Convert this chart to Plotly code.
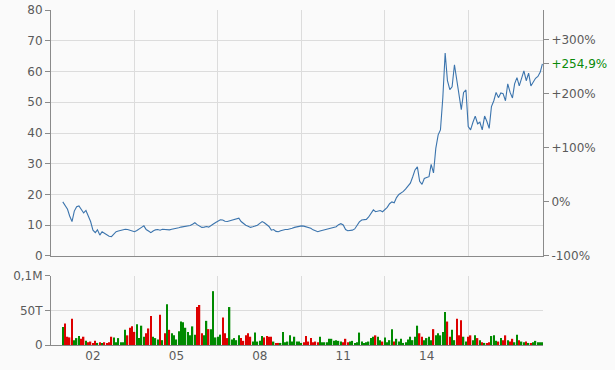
import pandas as pd
import plotly.graph_objects as go

# ---- data (monthly) ----
months = pd.date_range("2000-12-01", "2018-03-01", freq="MS")

close = [
    17.6, 16.4, 15.2, 13.0, 11.2, 14.6, 16.0, 16.3, 15.1, 14.0,
    14.8, 12.8, 11.2, 8.4, 7.6, 8.5, 6.8, 7.9, 7.4, 7.1,
    6.4, 6.3, 7.2, 7.9, 8.1, 8.3, 8.5, 8.7, 8.6, 8.3,
    8.1, 7.9, 8.3, 8.7, 9.3, 9.8, 8.6, 8.1, 7.6, 8.1,
    8.5, 8.6, 8.4, 8.7, 8.6, 8.7, 8.5, 8.7, 8.8, 9.0,
    9.2, 9.4, 9.5, 9.6, 9.8, 9.9, 10.3, 10.8, 10.2, 9.6,
    9.3, 9.4, 9.6, 9.4, 9.8, 10.4, 10.9, 11.4, 11.8, 11.7,
    11.3, 11.2, 11.4, 11.6, 11.7, 12.0, 12.3, 11.2, 10.5, 10.0,
    9.7, 9.3, 9.5, 9.7, 10.0, 10.6, 11.2, 10.8, 10.3, 9.6,
    8.4, 8.6, 8.0, 7.9, 8.2, 8.5, 8.6, 8.6, 8.7, 9.0,
    9.3, 9.5, 9.7, 9.8, 9.7, 9.5, 9.4, 9.0, 8.5, 8.2,
    7.9, 8.1, 8.3, 8.5, 8.8, 9.0, 9.1, 9.3, 9.5, 10.2,
    10.5, 10.1, 8.6, 8.2, 8.2, 8.4, 8.8, 10.0, 11.1, 11.7,
    11.8, 11.9, 12.7, 14.0, 15.0, 14.4, 14.7, 14.8, 14.4, 15.2,
    15.8, 17.0, 17.6, 17.3, 19.0, 20.0, 20.5, 21.0, 21.8, 22.7,
    23.7, 25.7, 28.0, 29.0, 24.3, 23.3, 25.2, 25.5, 25.8, 29.8,
    27.0, 35.0, 39.4, 41.0, 51.4, 66.0, 57.0, 54.1, 55.0, 62.2,
    57.5, 53.0, 47.6, 53.2, 54.0, 42.1, 41.0, 43.5, 45.5, 43.0,
    43.5, 41.0, 45.5, 43.8, 41.5, 48.6, 50.5, 53.2, 51.5, 53.0,
    52.8, 50.5, 56.0, 53.2, 51.4, 56.0, 58.0, 55.3, 57.5, 60.2,
    57.0, 59.5, 55.3, 56.8, 57.8, 58.4, 59.8, 62.46,
]

# volume in thousands (T)
volume_t = [
    26, 31, 12, 11, 38, 7, 10, 13, 9, 12,
    6, 4, 5, 3, 6, 3, 4, 3, 4, 3,
    4, 12, 11, 4, 10, 4, 4, 22, 14, 25,
    27, 19, 30, 10, 28, 12, 17, 24, 42, 12,
    10, 8, 44, 7, 17, 59, 22, 17, 14, 8,
    20, 34, 33, 25, 19, 14, 27, 15, 55, 58,
    17, 14, 35, 23, 23, 78, 11, 12, 15, 40,
    17, 10, 55, 8, 10, 7, 14, 10, 6, 14,
    17, 12, 5, 18, 5, 6, 13, 11, 13, 12,
    12, 5, 3, 3, 3, 19, 4, 5, 14, 5,
    12, 5, 5, 3, 4, 13, 5, 10, 4, 5,
    4, 12, 4, 4, 4, 9, 9, 6, 7, 6,
    5, 4, 9, 4, 5, 6, 3, 4, 18, 5,
    3, 4, 5, 10, 12, 14, 12, 7, 5, 11,
    4, 7, 23, 5, 9, 5, 9, 3, 4, 8,
    12, 7, 12, 28, 17, 12, 7, 10, 12, 7,
    23, 14, 17, 14, 19, 48, 34, 12, 22, 7,
    38, 14, 36, 12, 5, 12, 14, 7, 14, 10,
    7, 4, 3, 3, 4, 13, 14, 6, 5, 10,
    7, 14, 7, 5, 9, 4, 15, 7, 5, 4,
    5, 3, 3, 4, 6, 4, 4, 4,
]

price_ticks = [0, 10, 20, 30, 40, 50, 60, 70, 80]
pct_ticks = [-100, 0, 100, 200, 300]
pct_labels = ["-100%", "0%", "+100%", "+200%", "+300%"]
vol_ticks = [0, 50, 100]
vol_labels = ["0", "50T", "0,1M"]
year_ticks = ["2002-01-01", "2005-01-01", "2008-01-01", "2011-01-01", "2014-01-01"]
year_labels = ["02", "05", "08", "11", "14"]
grid_dates = ["2003-07-01", "2006-07-01", "2009-07-01", "2012-07-01", "2015-07-01"]

x_range = ["2000-06-29", "2018-03-09"]

# ---- derived ----
base = close[0]
pct = [(c / base - 1) * 100 for c in close]
last_pct = pct[-1]
last_label = "+" + f"{last_pct:.1f}".replace(".", ",") + "%"
pct_max = (80 / base - 1) * 100

UP, DOWN = "#008a00", "#dd0000"
bar_colors = [UP if i == 0 or close[i] >= close[i - 1] else DOWN for i in range(len(close))]

FONT = dict(family="DejaVu Sans", size=12, color="#5a5a5a")
AXIS = "#8a8a8a"
GRID = "#dcdcdc"
BG = "#fafafa"

fig = go.Figure()
fig.add_trace(go.Scatter(x=months, y=close, mode="lines",
                         line=dict(color="#3b74ad", width=1.1),
                         xaxis="x", yaxis="y", hoverinfo="skip"))
fig.add_trace(go.Scatter(x=months, y=pct, mode="lines", opacity=0,
                         line=dict(width=0), xaxis="x", yaxis="y3", hoverinfo="skip"))
fig.add_trace(go.Bar(x=months, y=volume_t, marker=dict(color=bar_colors, line=dict(width=0)),
                     xaxis="x2", yaxis="y2", hoverinfo="skip"))

minor_grid = dict(tickmode="array", tickvals=grid_dates + [x_range[1]], showgrid=True,
                  gridcolor=GRID, gridwidth=1, ticks="")

fig.update_layout(
    width=615, height=370,
    margin=dict(l=51, r=72, t=10, b=25, autoexpand=False),
    paper_bgcolor=BG, plot_bgcolor=BG,
    font=FONT, showlegend=False, hovermode=False, bargap=0.35,
    xaxis=dict(domain=[0, 1], anchor="y", type="date", range=x_range, matches="x2",
               showticklabels=False, showgrid=False, ticks="", showline=True,
               linecolor=AXIS, linewidth=1, zeroline=False, automargin=False,
               tickmode="array", tickvals=year_ticks, minor=minor_grid),
    yaxis=dict(domain=[0.2657, 1], anchor="x", range=[0, 80], tickmode="array",
               tickvals=price_ticks, ticks="outside", ticklen=5, tickcolor=AXIS,
               showline=True, linecolor=AXIS, gridcolor=GRID, zeroline=False,
               automargin=False),
    yaxis3=dict(overlaying="y", side="right", anchor="x", range=[-100, pct_max],
                tickmode="array", tickvals=pct_ticks + [last_pct],
                ticktext=pct_labels + [f"<span style='color:#0a8a0a'>{last_label}</span>"],
                ticks="outside", ticklen=5, tickcolor=AXIS, showline=True,
                linecolor=AXIS, showgrid=False, zeroline=False, automargin=False),
    xaxis2=dict(domain=[0, 1], anchor="y2", type="date", range=x_range,
                tickmode="array", tickvals=year_ticks, ticktext=year_labels,
                showgrid=False, ticks="", showline=True, linecolor=AXIS,
                zeroline=False, minor=minor_grid, automargin=False),
    yaxis2=dict(domain=[0, 0.206], anchor="x2", range=[0, 100], tickmode="array",
                tickvals=vol_ticks, ticktext=vol_labels, ticks="outside", ticklen=5,
                tickcolor=AXIS, showline=True, linecolor=AXIS, gridcolor=GRID,
                zeroline=False, automargin=False),
)

fig.write_html("out.html", config={"displayModeBar": False},
               post_script="document.body.style.margin='0';")
